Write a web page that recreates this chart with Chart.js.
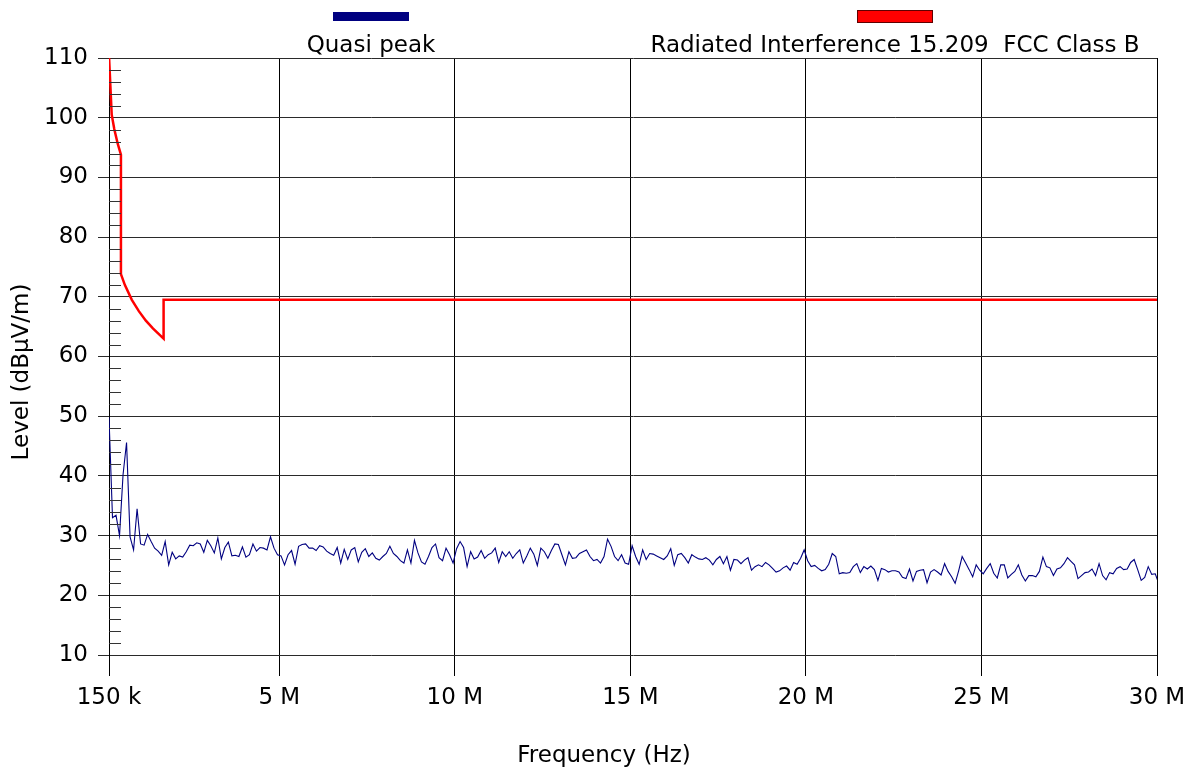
<!DOCTYPE html>
<html>
<head>
<meta charset="utf-8">
<title>Radiated Interference</title>
<script src="https://cdn.jsdelivr.net/npm/chart.js@4.4.1/dist/chart.umd.min.js"></script>
<style>
  html, body { margin: 0; padding: 0; background: #fff; }
</style>
</head>
<body>
<canvas id="chart" width="1195" height="772"></canvas>
<script>
// frequency axis (MHz)
var xMin = 0.15;
var xMax = 30;
var xTickValues = [0.15, 5, 10, 15, 20, 25, 30];

// level axis (dBuV/m)
var yMin = 10;
var yMax = 110;

// quasi peak sweep: 0.15 MHz start, 100 kHz step
var sweepStartMHz = 0.15;
var sweepStepMHz = 0.1;
var qpLevel = [
  49.8, 33.0, 33.4, 30.0, 40.2, 45.6, 29.8, 27.6, 34.5, 28.6,
  28.4, 30.2, 29.0, 27.9, 27.4, 26.7, 29.0, 25.1, 27.2, 26.1,
  26.6, 26.4, 27.3, 28.4, 28.3, 28.8, 28.6, 27.2, 29.2, 28.3,
  27.1, 29.6, 26.1, 28.0, 28.9, 26.6, 26.7, 26.5, 28.1, 26.4,
  26.8, 28.6, 27.4, 28.0, 27.9, 27.6, 29.8, 27.9, 26.8, 26.6,
  25.1, 26.8, 27.5, 25.2, 28.2, 28.5, 28.6, 27.9, 27.9, 27.5,
  28.3, 28.1, 27.4, 27.0, 26.7, 28.0, 25.4, 27.7, 26.0, 27.6,
  28.0, 25.6, 27.2, 27.8, 26.5, 27.1, 26.2, 25.9, 26.5, 27.0,
  28.2, 27.0, 26.5, 25.8, 25.4, 27.6, 25.4, 29.2, 27.1, 25.6,
  25.2, 26.5, 28.0, 28.6, 26.3, 25.8, 27.9, 26.8, 25.4, 27.8,
  29.0, 28.0, 24.8, 27.3, 26.1, 26.4, 27.5, 26.2, 26.8, 27.1,
  27.9, 25.5, 27.3, 26.5, 27.3, 26.2, 27.0, 27.6, 25.4, 26.6,
  27.9, 26.9, 25.0, 27.9, 27.3, 26.2, 27.5, 28.6, 28.5, 26.8,
  25.1, 27.3, 26.2, 26.3, 27.0, 27.3, 27.6, 26.5, 25.8, 26.0,
  25.4, 26.5, 29.4, 28.2, 26.5, 25.8, 26.8, 25.4, 25.2, 28.3,
  26.5, 25.2, 27.6, 26.0, 27.0, 26.9, 26.6, 26.3, 26.0, 26.6,
  27.8, 25.0, 26.8, 27.0, 26.3, 25.4, 26.8, 26.4, 26.1, 26.0,
  26.3, 25.9, 25.1, 26.0, 26.5, 25.3, 26.5, 24.2, 26.0, 25.9,
  25.3, 25.9, 26.3, 24.2, 24.8, 25.1, 24.8, 25.5, 25.1, 24.5,
  23.9, 24.1, 24.6, 24.9, 24.2, 25.5, 25.2, 26.2, 27.6, 25.8,
  24.8, 25.0, 24.5, 24.1, 24.3, 25.2, 27.0, 26.5, 23.6, 23.8,
  23.7, 23.8, 24.8, 25.3, 23.8, 24.8, 24.4, 24.9, 24.3, 22.5,
  24.5, 24.3, 23.9, 24.1, 24.1, 23.9, 23.0, 22.8, 24.4, 22.4,
  24.0, 24.2, 24.3, 22.1, 23.9, 24.3, 23.9, 23.4, 25.3, 24.0,
  23.1, 22.0, 24.1, 26.5, 25.4, 24.3, 23.1, 25.1, 24.2, 23.6,
  24.5, 25.3, 23.7, 22.9, 25.1, 25.1, 22.9, 23.5, 24.0, 25.1,
  23.4, 22.4, 23.3, 23.3, 23.1, 24.0, 26.4, 24.8, 24.6, 23.3,
  24.4, 24.6, 25.3, 26.3, 25.7, 25.1, 22.8, 23.3, 23.8, 23.9,
  24.4, 23.3, 25.3, 23.3, 22.6, 23.8, 23.6, 24.5, 24.8, 24.3,
  24.4, 25.5, 26.0, 24.3, 22.5, 23.0, 24.8, 23.5, 23.6, 22.0
];

// FCC 15.209 class B limit (MHz / dBuV/m)
var limitFreq = [0.009, 0.227, 0.3, 0.4, 0.49, 0.49, 0.6, 0.8, 1.0, 1.2, 1.4, 1.705, 1.705, 30];
var limitLevel = [128.5, 100.5, 98.1, 95.6, 93.8, 73.8, 72.0, 69.5, 67.6, 66.0, 64.7, 63.0, 69.5, 69.5];

var qpLabel = 'Quasi peak';
var limitLabel = 'Radiated Interference 15.209  FCC Class B';

var FONT = '"DejaVu Sans", Verdana, sans-serif';
var FONT_SIZE = 23;

var qpPoints = qpLevel.map(function (v, i) {
  return { x: +(sweepStartMHz + i * sweepStepMHz).toFixed(3), y: v };
});
var limitPoints = limitFreq.map(function (f, i) {
  return { x: f, y: limitLevel[i] };
});

// minor ticks on the inside of the level axis, legend and axis titles
var decorations = {
  id: 'decorations',
  afterDraw: function (chart) {
    var c = chart.ctx;
    var a = chart.chartArea;
    var ys = chart.scales.y;

    c.save();
    c.strokeStyle = '#333';
    c.lineWidth = 1;
    for (var v = yMin; v <= yMax; v += 2) {
      if (v % 10 === 0) continue;
      var py = Math.round(ys.getPixelForValue(v)) + 0.5;
      c.beginPath();
      c.moveTo(a.left, py);
      c.lineTo(a.left + 12, py);
      c.stroke();
    }

    c.font = FONT_SIZE + 'px ' + FONT;
    c.fillStyle = '#000';
    c.textAlign = 'center';
    c.textBaseline = 'middle';

    chart.data.datasets.forEach(function (ds, i) {
      var cx = a.left + a.width * (i === 0 ? 0.25 : 0.75);
      if (i === 0) {
        c.fillStyle = ds.borderColor;
        c.fillRect(cx - 38, 12, 76, 9);
      } else {
        c.fillStyle = ds.borderColor;
        c.fillRect(cx - 38, 10, 76, 13);
        c.strokeStyle = '#600000';
        c.strokeRect(cx - 37.5, 10.5, 75, 12);
      }
      c.fillStyle = '#000';
      c.fillText(ds.label, cx, 46);
    });

    c.fillText('Frequency (Hz)', 604, 756);
    c.translate(22, 372);
    c.rotate(-Math.PI / 2);
    c.fillText('Level (dB\u00b5V/m)', 0, 0);
    c.restore();
  }
};

var ctx = document.getElementById('chart').getContext('2d');

new Chart(ctx, {
  type: 'line',
  data: {
    datasets: [
      {
        label: qpLabel,
        data: qpPoints,
        borderColor: '#000080',
        backgroundColor: '#000080',
        borderWidth: 1.1,
        pointRadius: 0,
        tension: 0,
        fill: false
      },
      {
        label: limitLabel,
        data: limitPoints,
        borderColor: '#ff0000',
        backgroundColor: '#ff0000',
        borderWidth: 2.5,
        pointRadius: 0,
        tension: 0,
        fill: false
      }
    ]
  },
  options: {
    responsive: false,
    animation: false,
    layout: { padding: { top: 58, right: 38, left: 0, bottom: 0 } },
    plugins: {
      legend: { display: false },
      tooltip: { enabled: false }
    },
    scales: {
      x: {
        type: 'linear',
        min: xMin,
        max: xMax,
        afterBuildTicks: function (s) {
          s.ticks = xTickValues.map(function (v) { return { value: v }; });
        },
        afterFit: function (s) { s.height = 117; },
        grid: { color: '#000', tickColor: '#000', tickLength: 21, lineWidth: 1 },
        border: { display: false },
        ticks: {
          autoSkip: false,
          maxRotation: 0,
          padding: 8,
          color: '#000',
          font: { family: FONT, size: FONT_SIZE },
          callback: function (v) {
            return v < 1 ? Math.round(v * 1000) + ' k' : v + ' M';
          }
        }
      },
      y: {
        min: yMin,
        max: yMax,
        afterFit: function (s) { s.width = 109; },
        grid: { color: '#2a2a2a', tickColor: '#2a2a2a', tickLength: 11, lineWidth: 1 },
        border: { display: true, color: '#000', width: 1 },
        ticks: {
          stepSize: 10,
          padding: 10,
          color: '#000',
          font: { family: FONT, size: FONT_SIZE }
        }
      }
    }
  },
  plugins: [decorations]
});
</script>
</body>
</html>
